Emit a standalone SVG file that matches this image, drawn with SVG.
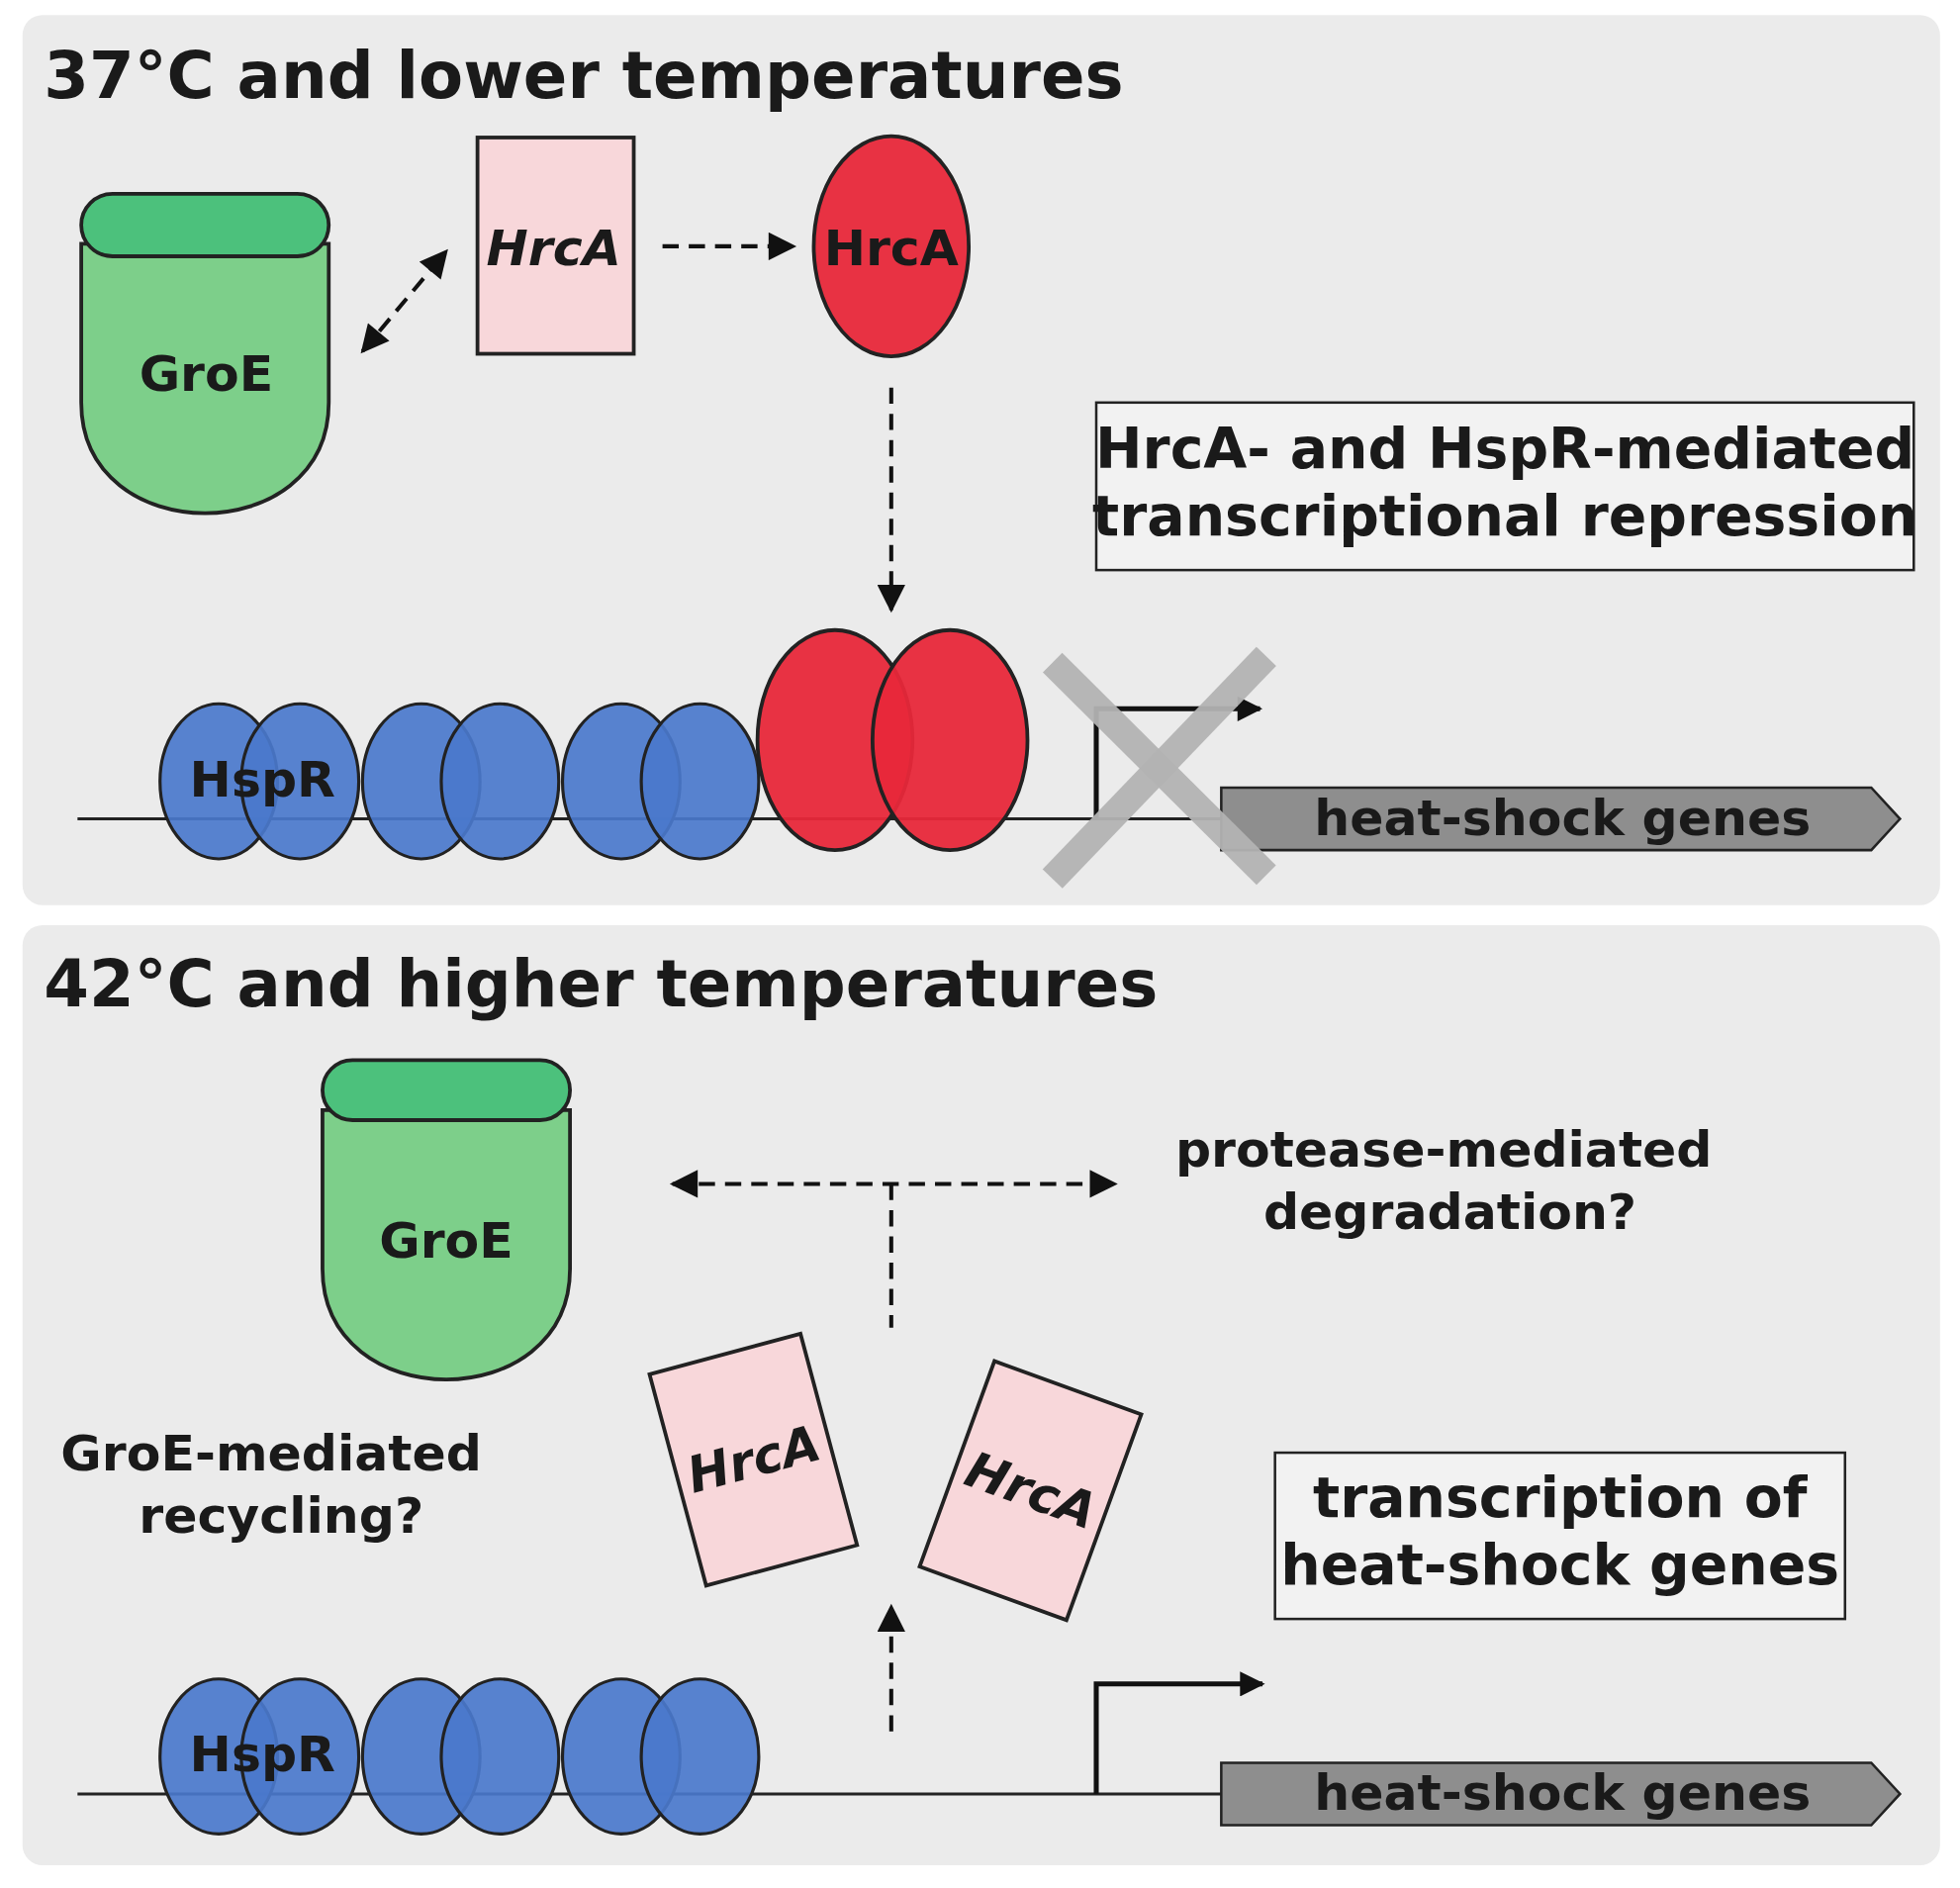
<svg xmlns="http://www.w3.org/2000/svg" width="1981" height="1908" viewBox="0 0 1981 1908">
<defs>
<style>
text{font-family:"DejaVu Sans",Verdana,sans-serif;font-weight:bold;fill:#1a1a1a}
.t{font-size:52px}
.m{font-size:40px;text-anchor:middle}
.b{font-size:45px}
.panel{fill:#ebebeb}
.cap{fill:#4cc17c;stroke:#222;stroke-width:3}
.body{fill:#7dcf8a;stroke:#222;stroke-width:3}
.pink{fill:#f8d7da;stroke:#222;stroke-width:3}
.red{fill:#e8283a;stroke:#222;stroke-width:3;fill-opacity:0.95}
.blue{fill:#4a78cc;stroke:#222;stroke-width:2.5;fill-opacity:0.92}
.dash{stroke:#111;stroke-width:3.2;stroke-dasharray:13 8;fill:none}
.box{fill:#f2f2f2;stroke:#222;stroke-width:2}
.gene{fill:#8e8e8e;stroke:#222;stroke-width:2}
</style>
<marker id="ah" viewBox="0 0 10 10" refX="9" refY="5" markerWidth="8" markerHeight="7" orient="auto-start-reverse"><path d="M0,0L10,5L0,10z" fill="#111"/></marker>
<marker id="ah2" viewBox="0 0 10 10" refX="9" refY="5" markerWidth="6" markerHeight="5" orient="auto"><path d="M0,0L10,5L0,10z" fill="#111"/></marker>
</defs>
<g transform="scale(1.2634)">
<rect class="panel" x="18" y="12" width="1534" height="712" rx="16"/>
<rect class="panel" x="18" y="740" width="1534" height="752" rx="16"/>
<text class="t" x="35" y="78">37°C and lower temperatures</text>
<text class="t" x="35" y="805">42°C and higher temperatures</text>

<g id="groe1">
<path class="body" d="M65,195 H263 V322 C263,440 65,440 65,322 Z"/>
<rect class="cap" x="65" y="155" width="198" height="50" rx="25"/>
<text class="m" x="165" y="313">GroE</text>
</g>
<g id="hrcA1">
<rect class="pink" x="382" y="110" width="125" height="173"/>
<text class="m" x="443" y="212" font-style="italic">HrcA</text>
</g>
<g id="hrcA2">
<ellipse class="red" cx="713" cy="197" rx="62" ry="88"/>
<text class="m" x="713" y="212">HrcA</text>
</g>
<g id="box1">
<rect class="box" x="877" y="322" width="654" height="134"/>
<text class="m b" x="1204" y="374">HrcA- and HspR-mediated</text>
<text class="m b" x="1204" y="428">transcriptional repression</text>
</g>
<g id="dna1">
<line x1="62" y1="655" x2="980" y2="655" stroke="#222" stroke-width="2.5"/>
<ellipse class="blue" cx="175" cy="625" rx="47" ry="62"/>
<ellipse class="blue" cx="240" cy="625" rx="47" ry="62"/>
<ellipse class="blue" cx="337" cy="625" rx="47" ry="62"/>
<ellipse class="blue" cx="400" cy="625" rx="47" ry="62"/>
<ellipse class="blue" cx="497" cy="625" rx="47" ry="62"/>
<ellipse class="blue" cx="560" cy="625" rx="47" ry="62"/>
<text class="m" x="210" y="637">HspR</text>
<ellipse class="red" cx="668" cy="592" rx="62" ry="88"/>
<ellipse class="red" cx="760" cy="592" rx="62" ry="88"/>
<path d="M877,655 V567 H1008" fill="none" stroke="#111" stroke-width="4" marker-end="url(#ah2)"/>
<polygon class="gene" points="977,630 1497,630 1520,655 1497,680 977,680"/>
<text class="m" x="1250" y="668">heat-shock genes</text>
<g stroke="#b3b3b3" stroke-width="22" stroke-opacity="0.95">
<line x1="842" y1="530" x2="1013" y2="700"/>
<line x1="1013" y1="525" x2="842" y2="703"/>
</g>
</g>

<g id="groe2">
<path class="body" d="M258,888 H456 V1015 C456,1133 258,1133 258,1015 Z"/>
<rect class="cap" x="258" y="848" width="198" height="48" rx="24"/>
<text class="m" x="357" y="1006">GroE</text>
</g>
<g id="hrcA3" transform="rotate(-15 603 1167)">
<rect class="pink" x="540" y="1080" width="125" height="175"/>
<text class="m" x="603" y="1181" font-style="italic">HrcA</text>
</g>
<g id="hrcA4" transform="rotate(20 825 1192)">
<rect class="pink" x="762" y="1105" width="125" height="175"/>
<text class="m" x="825" y="1206" font-style="italic">HrcA</text>
</g>
<text class="m" x="1155" y="933">protease-mediated</text>
<text class="m" x="1160" y="983">degradation?</text>
<text class="m" x="217" y="1176">GroE-mediated</text>
<text class="m" x="225" y="1226">recycling?</text>
<g id="box2">
<rect class="box" x="1020" y="1162" width="456" height="133"/>
<text class="m b" x="1248" y="1213">transcription of</text>
<text class="m b" x="1248" y="1267">heat-shock genes</text>
</g>
<g id="dna2">
<line x1="62" y1="1435" x2="980" y2="1435" stroke="#222" stroke-width="2.5"/>
<ellipse class="blue" cx="175" cy="1405" rx="47" ry="62"/>
<ellipse class="blue" cx="240" cy="1405" rx="47" ry="62"/>
<ellipse class="blue" cx="337" cy="1405" rx="47" ry="62"/>
<ellipse class="blue" cx="400" cy="1405" rx="47" ry="62"/>
<ellipse class="blue" cx="497" cy="1405" rx="47" ry="62"/>
<ellipse class="blue" cx="560" cy="1405" rx="47" ry="62"/>
<text class="m" x="210" y="1417">HspR</text>
<path d="M877,1435 V1347 H1010" fill="none" stroke="#111" stroke-width="4" marker-end="url(#ah2)"/>
<polygon class="gene" points="977,1410 1497,1410 1520,1435 1497,1460 977,1460"/>
<text class="m" x="1250" y="1448">heat-shock genes</text>
</g>

<g id="connectors">
<line class="dash" x1="290" y1="281" x2="357" y2="201" marker-start="url(#ah)" marker-end="url(#ah)"/>
<line class="dash" x1="530" y1="197" x2="635" y2="197" marker-end="url(#ah)"/>
<line class="dash" x1="713" y1="310" x2="713" y2="488" marker-end="url(#ah)"/>
<line class="dash" x1="538" y1="947" x2="892" y2="947" marker-start="url(#ah)" marker-end="url(#ah)"/>
<line class="dash" x1="713" y1="947" x2="713" y2="1062"/>
<line class="dash" x1="713" y1="1385" x2="713" y2="1285" marker-end="url(#ah)"/>
</g>
</g>
</svg>
